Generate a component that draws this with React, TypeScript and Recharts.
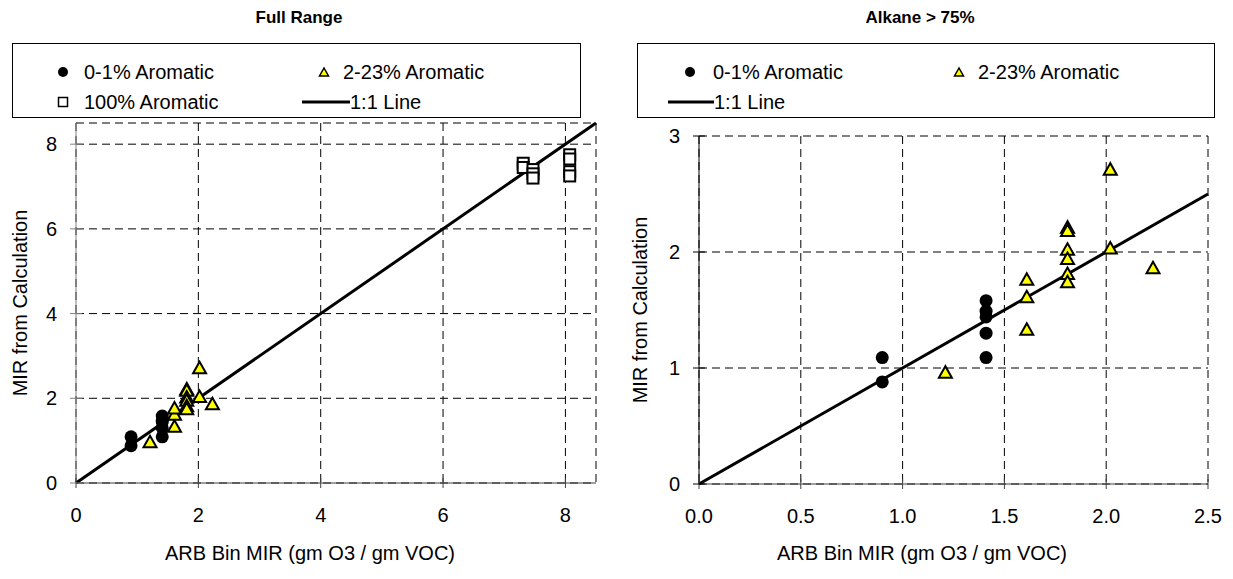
import React from "react";
import { CartesianGrid, Scatter, ScatterChart, XAxis, YAxis } from "recharts";

// 0-1% aromatic samples
const lowArBin = [0.9, 0.9, 1.41, 1.41, 1.41, 1.41, 1.41];
const lowArCalc = [1.09, 0.88, 1.58, 1.49, 1.44, 1.3, 1.09];

// 2-23% aromatic samples
const midArBin = [1.21, 1.61, 1.61, 1.61, 1.81, 1.81, 1.81, 1.81, 1.81, 1.81, 2.02, 2.02, 2.23];
const midArCalc = [0.96, 1.33, 1.61, 1.76, 2.21, 2.18, 2.02, 1.94, 1.81, 1.74, 2.71, 2.03, 1.86];

// 100% aromatic samples (full range chart only)
const fullArBin = [7.31, 7.31, 7.47, 7.47, 7.47, 8.07, 8.07, 8.07, 8.07];
const fullArCalc = [7.55, 7.45, 7.4, 7.3, 7.2, 7.75, 7.65, 7.35, 7.25];

const fullLine = [0, 8.5];
const alkaneLine = [0, 2.5];

const fullTicks = [0, 2, 4, 6, 8];
const alkaneXTicks = [0, 0.5, 1, 1.5, 2, 2.5];
const alkaneYTicks = [0, 1, 2, 3];

const pts = (xs: number[], ys: number[]) => xs.map((x, i) => ({ x, y: ys[i] }));
const lowPts = pts(lowArBin, lowArCalc);
const midPts = pts(midArBin, midArCalc);
const fullPts = pts(fullArBin, fullArCalc);
const fullLinePts = pts(fullLine, fullLine);
const alkaneLinePts = pts(alkaneLine, alkaneLine);

const FONT = '"Liberation Sans", Arial, sans-serif';
const FS = 20;
const TS = 5;
const XTM = 20;
const YTM = 14;

const Dot = (p: any) => <circle cx={p.cx} cy={p.cy} r={6.5} fill="#000" />;
const Tri = (p: any) => (
  <polygon
    points={`${p.cx},${p.cy - 6.5} ${p.cx - 6.5},${p.cy + 5} ${p.cx + 6.5},${p.cy + 5}`}
    fill="#ffff00"
    stroke="#000"
    strokeWidth={2}
  />
);
const Sq = (p: any) => (
  <rect x={p.cx - 5.5} y={p.cy - 5.5} width={11} height={11} fill="#fff" stroke="#000" strokeWidth={2} />
);
const NoDot = () => <g />;

const XTick = (p: any) => {
  const ay = p.y - XTM - TS;
  const label = p.fmt ? p.fmt(p.payload.value) : String(p.payload.value);
  return (
    <g>
      <line x1={p.x} x2={p.x} y1={ay - 5} y2={ay + 5} stroke={p.tickColor} />
      <text x={p.x} y={p.y} dy="0.71em" textAnchor="middle" fontSize={FS} fontFamily={FONT} fill="#000">
        {label}
      </text>
    </g>
  );
};

const YTick = (p: any) => {
  const ax = p.x + YTM + TS;
  return (
    <g>
      <line x1={ax - 6} x2={ax + 6} y1={p.y} y2={p.y} stroke={p.tickColor} />
      <text x={p.x} y={p.y} dy="0.355em" textAnchor="end" fontSize={FS} fontFamily={FONT} fill="#000">
        {p.payload.value}
      </text>
    </g>
  );
};

const abs = (left: number, top: number, extra: React.CSSProperties = {}): React.CSSProperties => ({
  position: "absolute",
  left,
  top,
  whiteSpace: "nowrap",
  ...extra,
});

const centered = (x: number, y: number, extra: React.CSSProperties = {}) =>
  abs(x, y, { transform: "translate(-50%, -50%)", ...extra });

const LegendDot = () => (
  <svg width={12} height={12}>
    <circle cx={6} cy={6} r={5} fill="#000" />
  </svg>
);
const LegendTri = () => (
  <svg width={12} height={12}>
    <polygon points="6,2 1.5,10 10.5,10" fill="#ffff00" stroke="#000" strokeWidth={1.5} />
  </svg>
);
const LegendSq = () => (
  <svg width={12} height={12}>
    <rect x={1.5} y={1.5} width={9} height={9} fill="#fff" stroke="#000" strokeWidth={1.5} />
  </svg>
);
const LegendLine = ({ w }: { w: number }) => (
  <svg width={w} height={6}>
    <line x1={0} x2={w} y1={3} y2={3} stroke="#000" strokeWidth={3} />
  </svg>
);

const legendBox = (left: number, width: number): React.CSSProperties => ({
  position: "absolute",
  left,
  top: 43,
  width,
  height: 75,
  border: "1px solid #000",
  boxSizing: "border-box",
  background: "#fff",
  fontSize: FS,
});

const markerAt = (x: number, y: number) => centered(x, y, { display: "flex", lineHeight: 0 });
const textAt = (x: number, y: number) => abs(x, y, { transform: "translateY(-50%)", lineHeight: "22px" });

export default function App() {
  return (
    <div
      style={{
        position: "absolute",
        left: 0,
        top: 0,
        width: 1233,
        height: 579,
        background: "#fff",
        fontFamily: FONT,
        color: "#000",
        overflow: "hidden",
      }}
    >
      {/* Full range chart */}
      <div style={abs(0, 0)}>
        <ScatterChart width={616} height={579} margin={{ top: 123, right: 20, bottom: 56, left: 16 }}>
          <CartesianGrid stroke="#000" strokeDasharray="8 5" />
          <XAxis
            type="number"
            dataKey="x"
            domain={[0, 8.5]}
            ticks={fullTicks}
            height={40}
            tickSize={TS}
            tickMargin={XTM}
            tickLine={false}
            stroke="#404040"
            tick={<XTick tickColor="#404040" />}
          />
          <YAxis
            type="number"
            dataKey="y"
            domain={[0, 8.5]}
            ticks={fullTicks}
            width={60}
            tickSize={TS}
            tickMargin={YTM}
            tickLine={false}
            stroke="#808080"
            tick={<YTick tickColor="#808080" />}
          />
          <Scatter data={fullLinePts} line={{ stroke: "#000", strokeWidth: 3 }} shape={NoDot} isAnimationActive={false} />
          <Scatter data={fullPts} shape={Sq} isAnimationActive={false} />
          <Scatter data={midPts} shape={Tri} isAnimationActive={false} />
          <Scatter data={lowPts} shape={Dot} isAnimationActive={false} />
        </ScatterChart>
      </div>

      {/* Alkane > 75% chart */}
      <div style={abs(616, 0)}>
        <ScatterChart width={617} height={579} margin={{ top: 136, right: 25, bottom: 55, left: 23 }}>
          <CartesianGrid stroke="#000" strokeDasharray="8 5" />
          <XAxis
            type="number"
            dataKey="x"
            domain={[0, 2.5]}
            ticks={alkaneXTicks}
            height={40}
            tickSize={TS}
            tickMargin={XTM}
            tickLine={false}
            stroke="#404040"
            tick={<XTick tickColor="#404040" fmt={(v: number) => v.toFixed(1)} />}
          />
          <YAxis
            type="number"
            dataKey="y"
            domain={[0, 3]}
            ticks={alkaneYTicks}
            width={60}
            tickSize={TS}
            tickMargin={YTM}
            tickLine={false}
            stroke="#000"
            tick={<YTick tickColor="#000" />}
          />
          <Scatter data={alkaneLinePts} line={{ stroke: "#000", strokeWidth: 3 }} shape={NoDot} isAnimationActive={false} />
          <Scatter data={midPts} shape={Tri} isAnimationActive={false} />
          <Scatter data={lowPts} shape={Dot} isAnimationActive={false} />
        </ScatterChart>
      </div>

      {/* titles */}
      <div style={centered(299, 18, { fontWeight: "bold", fontSize: 17 })}>Full Range</div>
      <div style={centered(920, 18, { fontWeight: "bold", fontSize: 17 })}>Alkane &gt; 75%</div>

      {/* axis titles */}
      <div style={centered(20, 303, { fontSize: FS, transform: "translate(-50%, -50%) rotate(-90deg)" })}>
        MIR from Calculation
      </div>
      <div style={centered(640, 310, { fontSize: FS, transform: "translate(-50%, -50%) rotate(-90deg)" })}>
        MIR from Calculation
      </div>
      <div style={centered(310, 553, { fontSize: FS })}>ARB Bin MIR (gm O3 / gm VOC)</div>
      <div style={centered(922, 553, { fontSize: FS })}>ARB Bin MIR (gm O3 / gm VOC)</div>

      {/* legends */}
      <div style={legendBox(12, 569)}>
        <div style={markerAt(50, 28)}>
          <LegendDot />
        </div>
        <div style={textAt(71, 28)}>0-1% Aromatic</div>
        <div style={markerAt(311, 28)}>
          <LegendTri />
        </div>
        <div style={textAt(330, 28)}>2-23% Aromatic</div>
        <div style={markerAt(50, 58)}>
          <LegendSq />
        </div>
        <div style={textAt(71, 58)}>100% Aromatic</div>
        <div style={markerAt(313, 58)}>
          <LegendLine w={48} />
        </div>
        <div style={textAt(337, 58)}>1:1 Line</div>
      </div>

      <div style={legendBox(637, 578)}>
        <div style={markerAt(52, 28)}>
          <LegendDot />
        </div>
        <div style={textAt(75, 28)}>0-1% Aromatic</div>
        <div style={markerAt(321, 28)}>
          <LegendTri />
        </div>
        <div style={textAt(340, 28)}>2-23% Aromatic</div>
        <div style={markerAt(53, 58)}>
          <LegendLine w={46} />
        </div>
        <div style={textAt(76, 58)}>1:1 Line</div>
      </div>
    </div>
  );
}
